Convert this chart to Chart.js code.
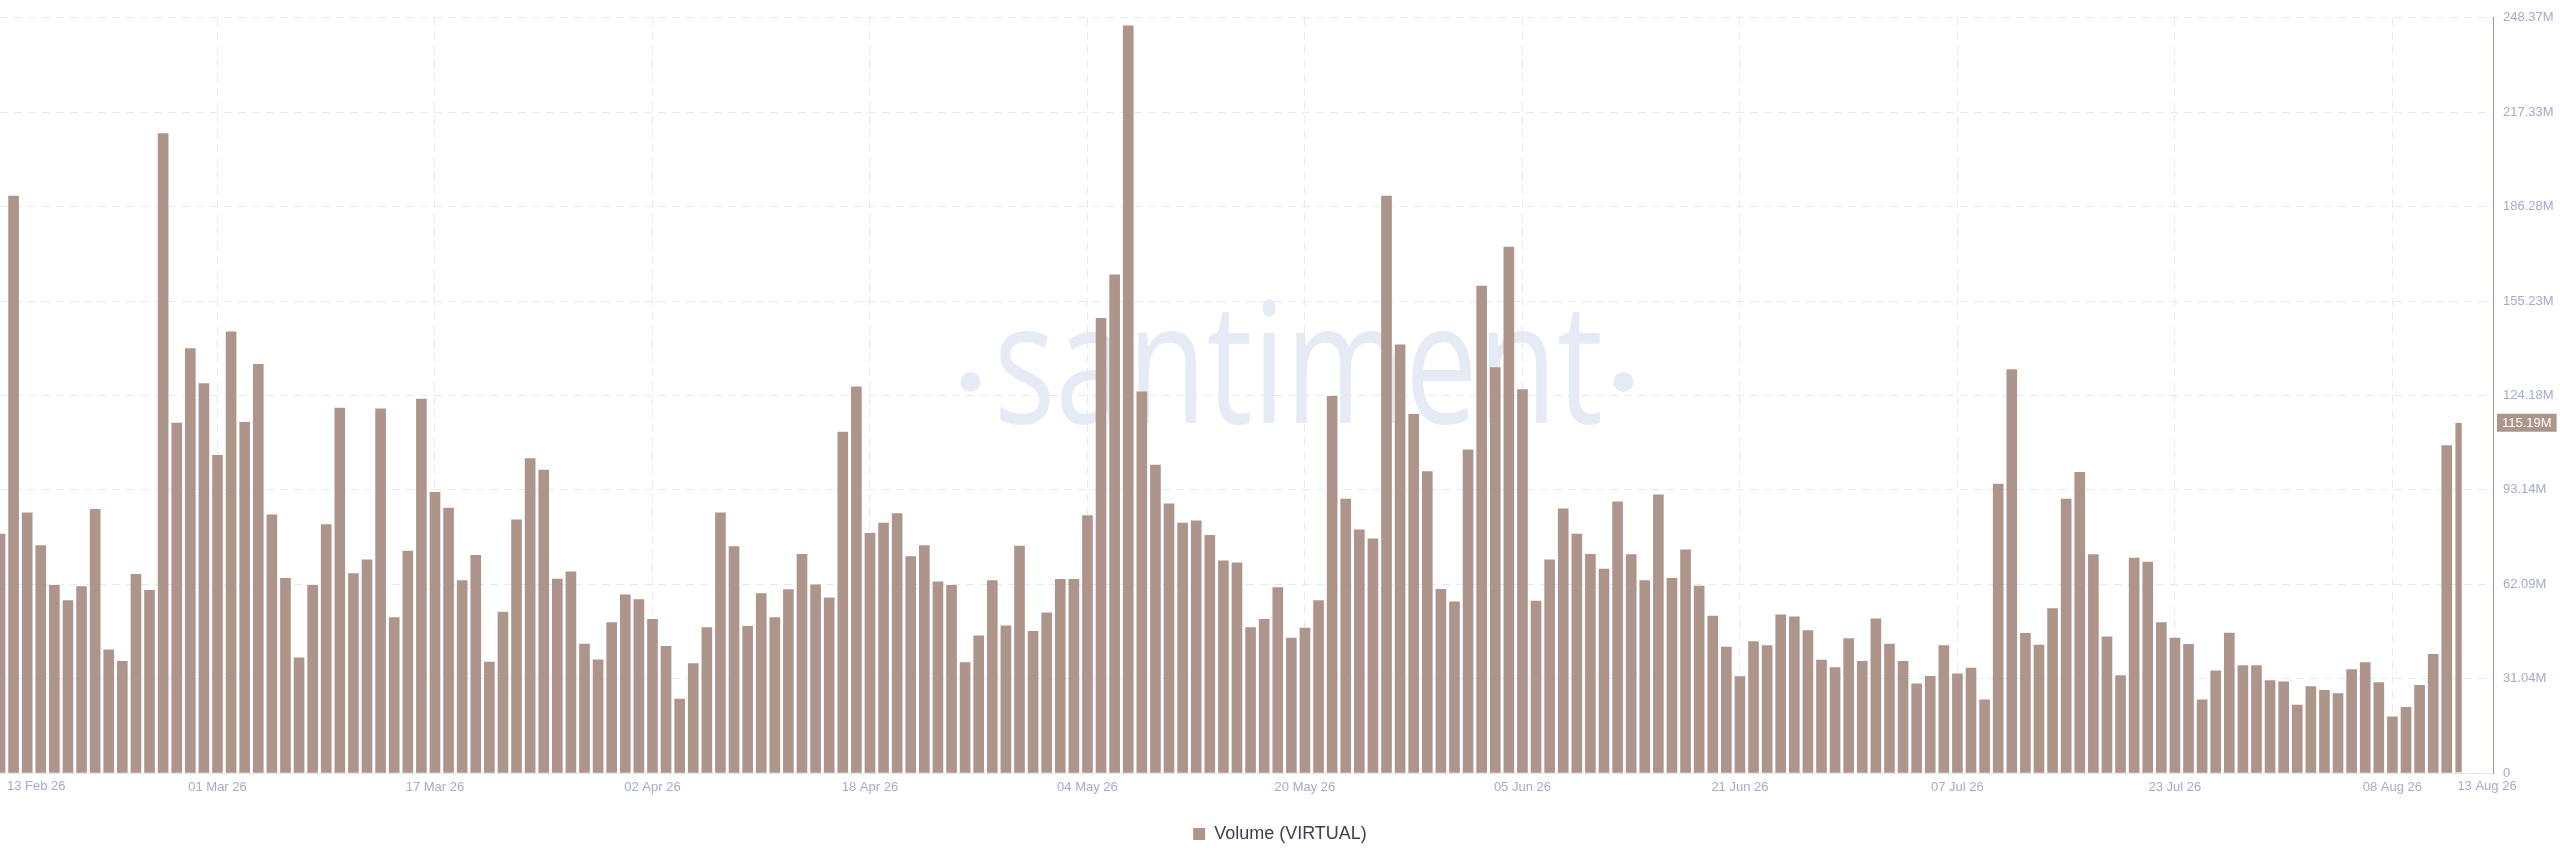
<!DOCTYPE html>
<html>
<head>
<meta charset="utf-8">
<title>Volume (VIRTUAL)</title>
<script src="https://cdn.jsdelivr.net/npm/chart.js@4.4.0/dist/chart.umd.min.js"></script>
<style>
    html, body { margin: 0; padding: 0; background: #fff; }
    #wrap { width: 2560px; height: 867px; position: relative; }
</style>
</head>
<body>
<div id="wrap"><canvas id="volumeChart"></canvas></div>
<script>
// daily volume, millions, 13 Feb 26 .. 13 Aug 26
const volumes = [
    78.6, 189.7, 85.6, 74.8, 61.7, 56.7, 61.3, 86.7, 40.5, 36.7, 65.3, 60.1, 210.3, 115.1, 139.6, 128.1,
    104.5, 145.1, 115.3, 134.4, 84.9, 64.0, 37.9, 61.7, 81.7, 120.0, 65.6, 70.1, 119.8, 51.1, 73.0, 123.0,
    92.3, 87.1, 63.3, 71.6, 36.5, 52.9, 83.3, 103.4, 99.6, 63.8, 66.2, 42.4, 37.2, 49.5, 58.6, 57.0,
    50.5, 41.7, 24.3, 36.0, 47.8, 85.6, 74.5, 48.2, 59.0, 51.1, 60.3, 71.9, 61.9, 57.6, 112.1, 127.0,
    78.8, 82.2, 85.3, 71.2, 74.8, 62.9, 61.7, 36.3, 45.1, 63.3, 48.4, 74.6, 46.6, 52.7, 63.7, 63.7,
    84.7, 149.5, 163.8, 245.7, 125.4, 101.3, 88.5, 82.2, 82.9, 78.2, 69.8, 69.1, 47.8, 50.5, 61.0, 44.4,
    47.7, 56.7, 123.9, 90.1, 80.0, 77.0, 189.7, 140.8, 118.0, 99.1, 60.4, 56.3, 106.3, 160.1, 133.3, 173.0,
    126.1, 56.5, 70.1, 86.9, 78.6, 71.9, 67.1, 89.2, 71.8, 63.3, 91.5, 64.0, 73.4, 61.5, 51.6, 41.4,
    31.7, 43.2, 41.9, 52.0, 51.4, 46.8, 37.1, 34.7, 44.2, 36.7, 50.7, 42.4, 36.7, 29.3, 31.8, 41.9,
    32.6, 34.5, 24.1, 95.0, 132.7, 45.9, 42.1, 54.1, 90.1, 98.9, 71.8, 44.8, 32.0, 70.7, 69.4, 49.5,
    44.4, 42.3, 24.1, 33.6, 46.0, 35.3, 35.3, 30.4, 30.0, 22.3, 28.4, 27.2, 26.1, 34.0, 36.3, 29.7,
    18.5, 21.6, 28.8, 39.0, 107.7, 115.19
];

const xTickIndex = [0, 16, 32, 48, 64, 80, 96, 112, 128, 144, 160, 176, 181];
const xTickLabels = ['13 Feb 26', '01 Mar 26', '17 Mar 26', '02 Apr 26', '18 Apr 26', '04 May 26', '20 May 26',
    '05 Jun 26', '21 Jun 26', '07 Jul 26', '23 Jul 26', '08 Aug 26', '13 Aug 26'];

const yTickValues = [0, 31.04, 62.09, 93.14, 124.18, 155.23, 186.28, 217.33, 248.37];
const yTickLabels = ['0', '31.04M', '62.09M', '93.14M', '124.18M', '155.23M', '186.28M', '217.33M', '248.37M'];
const lastLabel = '115.19M';

const barColor = '#ae958b';
const tickColor = '#a3abc9';
const gridColor = '#e7e9f2';
const tickFont = '"Liberation Sans", Arial, sans-serif';
const lastIndex = volumes.length - 1;

const watermark = {
    id: 'watermark',
    beforeDraw(chart) {
        const ctx = chart.ctx;
        const cx = chart.width * 0.5072;
        const baseY = 423;
        ctx.save();
        ctx.fillStyle = 'rgba(212, 220, 237, 0.6)';
        ctx.translate(cx, baseY);
        ctx.scale(0.77, 1);
        ctx.font = '400 168px "Open Sans", sans-serif';
        ctx.textAlign = 'center';
        ctx.textBaseline = 'alphabetic';
        ctx.fillText('santiment', 0, 0);
        ctx.restore();
        ctx.save();
        ctx.fillStyle = 'rgba(212, 220, 237, 0.6)';
        [-328, 325].forEach(dx => {
            ctx.beginPath();
            ctx.arc(cx + dx, 382, 10, 0, Math.PI * 2);
            ctx.fill();
        });
        ctx.restore();
    }
};

// first and last date labels sit to the right of their tick
const edgeLabels = {
    id: 'edgeLabels',
    afterDraw(chart) {
        const {ctx, scales: {x}} = chart;
        ctx.save();
        ctx.font = '13px ' + tickFont;
        ctx.fillStyle = tickColor;
        ctx.textAlign = 'left';
        ctx.textBaseline = 'top';
        const y = x.top + 7;
        ctx.fillText(xTickLabels[0], x.getPixelForValue(xTickIndex[0]) + 7, y);
        ctx.fillText(xTickLabels[xTickLabels.length - 1], x.getPixelForValue(xTickIndex[xTickIndex.length - 1]) - 3, y);
        ctx.restore();
    }
};

const lastValueBadge = {
    id: 'lastValueBadge',
    afterDraw(chart) {
        const {ctx, scales: {y}} = chart;
        const py = y.getPixelForValue(volumes[lastIndex]);
        ctx.save();
        ctx.font = '13px ' + tickFont;
        const w = ctx.measureText(lastLabel).width + 10;
        ctx.fillStyle = barColor;
        ctx.fillRect(y.left + 4, py - 9, w, 18);
        ctx.fillStyle = '#ffffff';
        ctx.textBaseline = 'middle';
        ctx.fillText(lastLabel, y.left + 9, py + 0.5);
        ctx.restore();
    }
};

new Chart(document.getElementById('volumeChart').getContext('2d'), {
    type: 'bar',
    data: {
        datasets: [{
            label: 'Volume (VIRTUAL)',
            data: volumes.map((v, i) => ({ x: i, y: v })),
            backgroundColor: barColor,
            borderColor: 'rgba(0,0,0,0)',
            borderWidth: ctx => ctx.dataIndex === lastIndex ? { top: 0, right: 4, bottom: 0, left: 0 } : 0,
            borderSkipped: false,
            barThickness: 10
        }]
    },
    options: {
        responsive: true,
        maintainAspectRatio: false,
        animation: false,
        layout: {
            padding: { top: 9, right: 0, bottom: 14, left: 0 }
        },
        plugins: {
            legend: {
                display: true,
                position: 'bottom',
                labels: {
                    boxWidth: 12,
                    boxHeight: 12,
                    color: '#3b3f4f',
                    font: { family: tickFont, size: 18 }
                }
            },
            tooltip: { enabled: false }
        },
        scales: {
            x: {
                type: 'linear',
                min: 0,
                max: 183.4,
                offset: false,
                afterBuildTicks: scale => { scale.ticks = xTickIndex.map(v => ({ value: v })); },
                afterFit: scale => { scale.height = 42; },
                ticks: {
                    autoSkip: false,
                    maxRotation: 0,
                    padding: 0,
                    color: tickColor,
                    font: { family: tickFont, size: 13 },
                    callback: (v, i) => (i === 0 || i === xTickIndex.length - 1) ? '' : xTickLabels[i]
                },
                grid: {
                    color: ctx => (ctx.index === 0 || ctx.index === xTickIndex.length - 1) ? 'rgba(0,0,0,0)' : gridColor,
                    drawTicks: true,
                    tickLength: 7,
                    tickColor: 'rgba(0,0,0,0)',
                    offset: false
                },
                border: { display: true, color: '#e4e6ef', dash: [8, 6] }
            },
            y: {
                position: 'right',
                min: 0,
                max: yTickValues[yTickValues.length - 1],
                afterBuildTicks: scale => { scale.ticks = yTickValues.map(v => ({ value: v })); },
                afterFit: scale => { scale.width = 67; },
                ticks: {
                    padding: 10,
                    color: tickColor,
                    font: { family: tickFont, size: 13 },
                    callback: (v, i) => yTickLabels[i]
                },
                grid: { color: gridColor, drawTicks: false },
                border: { display: true, color: barColor, width: 1, dash: [8, 6] }
            }
        }
    },
    plugins: [watermark, edgeLabels, lastValueBadge]
});
</script>
</body>
</html>
